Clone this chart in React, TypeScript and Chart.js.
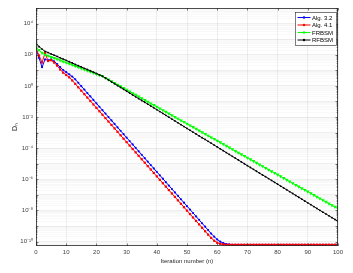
import React, { useEffect, useRef } from 'react';
import { Chart, registerables } from 'chart.js';

Chart.register(...registerables);

// Iteration numbers (categories)
const ITERATIONS = Array.from({ length: 101 }, (_, i) => i);

// log10(D_n), n = 0..100
const ALG32_LOG = [
  2.40, 1.80, 1.20, 1.70, 1.65, 1.70, 1.58, 1.40, 1.20, 1.02,
  0.88, 0.74, 0.60, 0.42, 0.20, -0.02, -0.24, -0.46, -0.68, -0.90,
  -1.12, -1.34, -1.56, -1.78, -2.00, -2.22, -2.44, -2.66, -2.88, -3.10,
  -3.32, -3.54, -3.76, -3.98, -4.20, -4.42, -4.64, -4.86, -5.08, -5.30,
  -5.52, -5.74, -5.96, -6.18, -6.40, -6.62, -6.84, -7.06, -7.28, -7.50,
  -7.72, -7.94, -8.16, -8.38, -8.60, -8.82, -9.04, -9.26, -9.48, -9.68,
  -9.86, -10.00, -10.09, -10.15, -10.18, -10.2, -10.2, -10.2, -10.2, -10.2,
  -10.2, -10.2, -10.2, -10.2, -10.2, -10.2, -10.2, -10.2, -10.2, -10.2,
  -10.2, -10.2, -10.2, -10.2, -10.2, -10.2, -10.2, -10.2, -10.2, -10.2,
  -10.2, -10.2, -10.2, -10.2, -10.2, -10.2, -10.2, -10.2, -10.2, -10.2,
  -10.2,
];

const ALG41_LOG = [
  2.40, 1.95, 1.50, 2.10, 1.60, 1.65, 1.50, 1.30, 1.05, 0.85,
  0.70, 0.55, 0.35, 0.13, -0.09, -0.31, -0.53, -0.75, -0.97, -1.19,
  -1.41, -1.63, -1.85, -2.07, -2.29, -2.51, -2.73, -2.95, -3.17, -3.39,
  -3.61, -3.83, -4.05, -4.27, -4.49, -4.71, -4.93, -5.15, -5.37, -5.59,
  -5.81, -6.03, -6.25, -6.47, -6.69, -6.91, -7.13, -7.35, -7.57, -7.79,
  -8.01, -8.23, -8.45, -8.67, -8.89, -9.11, -9.33, -9.55, -9.76, -9.94,
  -10.07, -10.14, -10.18, -10.2, -10.2, -10.2, -10.2, -10.2, -10.2, -10.2,
  -10.2, -10.2, -10.2, -10.2, -10.2, -10.2, -10.2, -10.2, -10.2, -10.2,
  -10.2, -10.2, -10.2, -10.2, -10.2, -10.2, -10.2, -10.2, -10.2, -10.2,
  -10.2, -10.2, -10.2, -10.2, -10.2, -10.2, -10.2, -10.2, -10.2, -10.2,
  -10.2,
];

const FRBSM_LOG = [
  2.49, 2.30, 2.12, 2.00, 1.93, 1.85, 1.78, 1.71, 1.64, 1.56,
  1.49, 1.42, 1.35, 1.27, 1.20, 1.13, 1.05, 0.98, 0.91, 0.84,
  0.76, 0.69, 0.62, 0.51, 0.40, 0.29, 0.18, 0.07, -0.03, -0.14,
  -0.25, -0.36, -0.47, -0.58, -0.69, -0.80, -0.91, -1.02, -1.13, -1.23,
  -1.34, -1.45, -1.56, -1.67, -1.78, -1.89, -2.00, -2.11, -2.22, -2.32,
  -2.43, -2.54, -2.65, -2.76, -2.87, -2.98, -3.09, -3.20, -3.31, -3.41,
  -3.52, -3.63, -3.74, -3.85, -3.96, -4.07, -4.18, -4.29, -4.40, -4.50,
  -4.61, -4.72, -4.83, -4.94, -5.05, -5.16, -5.27, -5.38, -5.49, -5.59,
  -5.70, -5.81, -5.92, -6.03, -6.14, -6.25, -6.36, -6.47, -6.58, -6.68,
  -6.79, -6.90, -7.01, -7.12, -7.23, -7.34, -7.45, -7.56, -7.67, -7.77,
  -7.88,
];

const RFBSM_LOG = [
  2.75, 2.52, 2.36, 2.22, 2.14, 2.05, 1.97, 1.89, 1.80, 1.72,
  1.64, 1.55, 1.47, 1.38, 1.30, 1.22, 1.13, 1.05, 0.97, 0.88,
  0.80, 0.71, 0.62, 0.50, 0.38, 0.26, 0.14, 0.02, -0.10, -0.22,
  -0.34, -0.46, -0.58, -0.70, -0.82, -0.94, -1.05, -1.17, -1.29, -1.41,
  -1.53, -1.65, -1.77, -1.89, -2.01, -2.13, -2.25, -2.37, -2.49, -2.61,
  -2.73, -2.85, -2.97, -3.09, -3.21, -3.33, -3.44, -3.56, -3.68, -3.80,
  -3.92, -4.04, -4.16, -4.28, -4.40, -4.52, -4.64, -4.76, -4.88, -5.00,
  -5.12, -5.24, -5.36, -5.48, -5.60, -5.72, -5.83, -5.95, -6.07, -6.19,
  -6.31, -6.43, -6.55, -6.67, -6.79, -6.91, -7.03, -7.15, -7.27, -7.39,
  -7.51, -7.63, -7.75, -7.87, -7.99, -8.11, -8.22, -8.34, -8.46, -8.58,
  -8.70,
];

const SERIES_NAMES = ['Alg. 3.2', 'Alg. 4.1', 'FRBSM', 'RFBSM'];
const SERIES_COLORS = ['#0000ff', '#ff0000', '#00ff00', '#000000'];
const X_TICKS = [0, 10, 20, 30, 40, 50, 60, 70, 80, 90, 100];
const Y_LABEL_EXPONENTS = [4, 2, 0, -2, -4, -6, -8, -10];
const Y_DECADES = [-11, -10, -9, -8, -7, -6, -5, -4, -3, -2, -1, 0, 1, 2, 3, 4, 5];
const Y_MIN_EXP = -10.28;
const Y_MAX_EXP = 5;

const FONT = '"Liberation Sans", Arial, Helvetica, sans-serif';
const AXIS_COLOR = '#262626';

const SUP: Record<string, string> = {
  '-': '\u207B', '0': '\u2070', '1': '\u00B9', '2': '\u00B2', '3': '\u00B3',
  '4': '\u2074', '5': '\u2075', '6': '\u2076', '7': '\u2077', '8': '\u2078', '9': '\u2079',
};
const supText = (n: number) => String(n).split('').map((c) => SUP[c] || c).join('');

const yMin = Math.pow(10, Y_MIN_EXP);
const yMax = Math.pow(10, Y_MAX_EXP);

// all tick positions (decades + minor multiples) within the range
const Y_TICK_VALUES: number[] = [];
Y_DECADES.forEach((e) => {
  for (let m = 1; m <= 9; m++) {
    const v = m * Math.pow(10, e);
    if (v >= yMin * 0.9999 && v <= yMax * 1.0001) Y_TICK_VALUES.push(v);
  }
});

const decadeOf = (v: number) => {
  const e = Math.round(Math.log10(v));
  return Math.abs(v / Math.pow(10, e) - 1) < 1e-6 ? e : null;
};

const markerStyles = [
  { pointStyle: 'circle', radius: 1.1, rotation: 0 },
  { pointStyle: 'rect', radius: 1.6, rotation: 0 },
  { pointStyle: 'triangle', radius: 2.1, rotation: 180 },
  { pointStyle: 'circle', radius: 0.9, rotation: 0 },
];

const framePlugin = {
  id: 'matlabFrame',
  afterDraw(chart: any) {
    const { ctx, chartArea: a, scales } = chart;
    const xs = scales.x;
    const ys = scales.y;
    ctx.save();
    ctx.strokeStyle = AXIS_COLOR;
    ctx.lineWidth = 0.6;
    // inward ticks
    ctx.beginPath();
    X_TICKS.forEach((v) => {
      const px = Math.round(xs.getPixelForValue(v)) + 0.5;
      ctx.moveTo(px, a.bottom);
      ctx.lineTo(px, a.bottom - 2.5);
      ctx.moveTo(px, a.top);
      ctx.lineTo(px, a.top + 2.5);
    });
    Y_TICK_VALUES.forEach((v) => {
      const py = Math.round(ys.getPixelForValue(v)) + 0.5;
      const len = decadeOf(v) !== null ? 2.5 : 1.3;
      ctx.moveTo(a.left, py);
      ctx.lineTo(a.left + len, py);
      ctx.moveTo(a.right, py);
      ctx.lineTo(a.right - len, py);
    });
    ctx.stroke();
    // box
    ctx.lineWidth = 0.8;
    ctx.strokeRect(a.left + 0.5, a.top + 0.5, a.right - a.left - 1, a.bottom - a.top - 1);

    // legend (inside, north-east)
    const bx = 295.5, by = 12.5, bw = 41, bh = 33;
    ctx.fillStyle = '#ffffff';
    ctx.fillRect(bx, by, bw, bh);
    ctx.lineWidth = 0.6;
    ctx.strokeStyle = AXIS_COLOR;
    ctx.strokeRect(bx, by, bw, bh);
    ctx.font = `6px ${FONT}`;
    ctx.textBaseline = 'middle';
    ctx.textAlign = 'left';
    SERIES_NAMES.forEach((name, i) => {
      const y = by + 5 + i * 7.5;
      ctx.strokeStyle = SERIES_COLORS[i];
      ctx.lineWidth = 1;
      ctx.beginPath();
      ctx.moveTo(bx + 2, y);
      ctx.lineTo(bx + 15, y);
      ctx.stroke();
      ctx.fillStyle = SERIES_COLORS[i];
      ctx.beginPath();
      ctx.arc(bx + 8.5, y, 1.2, 0, Math.PI * 2);
      ctx.fill();
      ctx.fillStyle = '#000000';
      ctx.fillText(name, bx + 16.5, y + 0.5);
    });
    ctx.restore();
  },
};

export default function App() {
  const canvasRef = useRef<HTMLCanvasElement | null>(null);

  useEffect(() => {
    const canvas = canvasRef.current;
    if (!canvas) return;
    const seriesLogs = [ALG32_LOG, ALG41_LOG, FRBSM_LOG, RFBSM_LOG];
    const orders = [4, 3, 2, 1];
    const datasets = seriesLogs.map((logs, si) => ({
      label: SERIES_NAMES[si],
      data: ITERATIONS.map((n, i) => ({ x: n, y: Math.pow(10, logs[i]) })),
      borderColor: SERIES_COLORS[si],
      backgroundColor: SERIES_COLORS[si],
      borderWidth: 1,
      pointStyle: markerStyles[si].pointStyle,
      pointRadius: markerStyles[si].radius,
      pointRotation: markerStyles[si].rotation,
      pointBorderWidth: 0,
      pointBackgroundColor: SERIES_COLORS[si],
      order: orders[si],
      tension: 0,
    }));

    const chart = new Chart(canvas, {
      type: 'line',
      data: { datasets },
      plugins: [framePlugin],
      options: {
        responsive: false,
        animation: false,
        events: [],
        layout: { padding: { top: 8, right: 15, left: 0, bottom: 0 } },
        plugins: {
          legend: { display: false },
          tooltip: { enabled: false },
        },
        scales: {
          x: {
            type: 'linear',
            min: 0,
            max: 100,
            afterBuildTicks: (scale: any) => {
              scale.ticks = X_TICKS.map((v) => ({ value: v }));
            },
            afterFit: (scale: any) => {
              scale.height = 27;
            },
            ticks: {
              font: { family: FONT, size: 6 },
              color: '#404040',
              padding: 3,
              maxRotation: 0,
              autoSkip: false,
              callback: (v: any) => String(v),
            },
            grid: { color: 'rgba(0,0,0,0.11)', lineWidth: 0.6, drawTicks: false },
            border: { display: false },
            title: {
              display: true,
              text: 'Iteration number (n)',
              font: { family: FONT, size: 6 },
              color: '#262626',
              padding: { top: 0, bottom: 8.4 },
            },
          },
          y: {
            type: 'logarithmic',
            min: yMin,
            max: yMax,
            afterBuildTicks: (scale: any) => {
              scale.ticks = Y_TICK_VALUES.map((v) => ({ value: v }));
            },
            afterFit: (scale: any) => {
              scale.width = 36;
            },
            ticks: {
              font: { family: FONT, size: 6 },
              color: '#404040',
              padding: 3,
              autoSkip: false,
              callback: (v: any) => {
                const e = decadeOf(Number(v));
                if (e === null || !Y_LABEL_EXPONENTS.includes(e)) return '';
                return '10' + supText(e);
              },
            },
            grid: {
              color: (ctx: any) => {
                const v = ctx.tick ? ctx.tick.value : 0;
                const e = decadeOf(v);
                if (e === null) return 'rgba(0,0,0,0.045)';
                return 'rgba(0,0,0,0.11)';
              },
              lineWidth: 0.6,
              drawTicks: false,
            },
            border: { display: false },
            title: {
              display: true,
              text: 'D\u2099',
              font: { family: FONT, size: 7 },
              color: '#262626',
              padding: { top: 10.8, bottom: 0 },
            },
          },
        },
      } as any,
    });

    return () => {
      chart.destroy();
    };
  }, []);

  return (
    <div style={{ position: 'fixed', left: 0, top: 0, width: 353, height: 273, background: '#ffffff' }}>
      <canvas ref={canvasRef} width={353} height={273} style={{ display: 'block', width: 353, height: 273 }} />
    </div>
  );
}
